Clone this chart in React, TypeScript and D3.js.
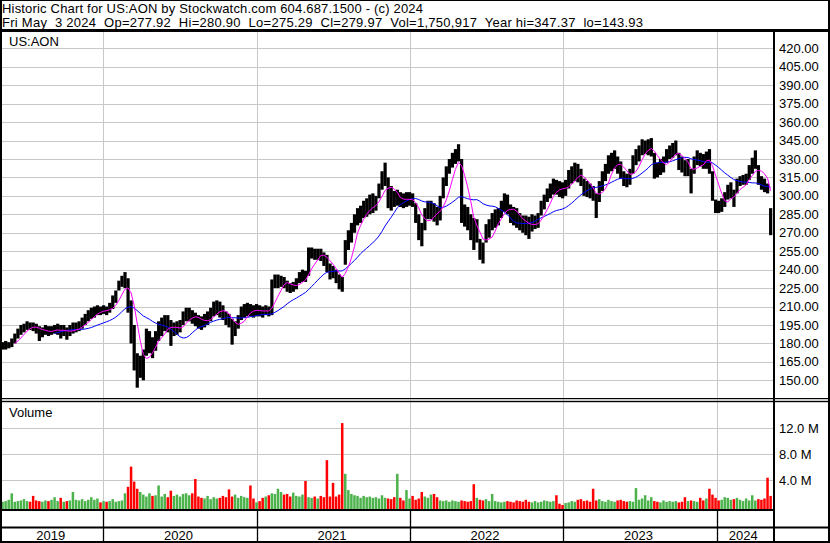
import React from "react";
import * as d3 from "d3";

// ---- data (weekly bars) ----
const years = ["2019", "2020", "2021", "2022", "2023", "2024"];
// week index (fractional) where each new year begins (2020..2024)
const yearStarts = [33.2, 83.8, 133.7, 183.7, 234.0];
const priceTicks = [150, 165, 180, 195, 210, 225, 240, 255, 270, 285, 300, 315, 330, 345, 360, 375, 390, 405, 420];
const volumeTicks = [4, 8, 12];
const volumeTickLabels = ["4.0 M", "8.0 M", "12.0 M"];

const weeklyHigh = [
  181, 182, 181, 184, 188, 192, 195, 196, 198, 197,
  197, 196, 194, 193, 195, 194, 194, 195, 196, 195,
  195, 193, 195, 197, 197, 198, 201, 204, 207, 209,
  210, 211, 210, 211, 210, 213, 219, 223, 231, 235,
  238, 233, 215, 195, 172, 170, 175, 192, 190, 185,
  190, 198, 201, 203, 203, 199, 197, 198, 199, 206,
  209, 209, 207, 205, 203, 202, 204, 206, 209, 214,
  215, 214, 211, 206, 204, 200, 198, 203, 210, 212,
  213, 212, 211, 212, 211, 210, 211, 210, 232, 236,
  236, 235, 234, 231, 229, 230, 233, 238, 240, 239,
  258, 258, 257, 257, 257, 254, 252, 245, 243, 240,
  236, 234, 264, 272, 278, 285, 290, 292, 296, 298,
  301, 302, 300, 310, 320, 327, 315, 308, 304, 305,
  303, 302, 303, 303, 302, 294, 285, 278, 290, 296,
  296, 294, 291, 300, 315, 324, 330, 335, 338, 342,
  330, 293, 291, 285, 282, 281, 265, 262, 277, 281,
  286, 289, 290, 296, 302, 301, 293, 291, 290, 286,
  284, 284, 283, 285, 284, 286, 296, 301, 306, 310,
  314, 313, 312, 311, 313, 321, 324, 327, 326, 322,
  314, 312, 310, 308, 302, 312, 320, 326, 333, 335,
  337, 332, 328, 320, 318, 322, 333, 338, 341, 346,
  345, 346, 347, 335, 327, 330, 332, 338, 341, 343,
  345, 335, 332, 329, 330, 322, 332, 337, 335, 334,
  336, 338, 320, 297, 296, 298, 303, 309, 311, 305,
  314, 316, 317, 318, 325, 331, 337, 325, 316, 314,
  310, 290,
];

const weeklyLow = [
  175, 175, 176, 177, 180, 184, 187, 189, 191, 191,
  190, 188, 182, 185, 187, 186, 187, 188, 187, 184,
  186, 183, 186, 188, 189, 190, 192, 195, 198, 200,
  201, 203, 203, 204, 203, 205, 208, 213, 223, 226,
  225, 205, 180, 158, 144, 152, 150, 170, 172, 168,
  174, 182, 186, 190, 189, 178, 186, 187, 189, 195,
  198, 198, 196, 194, 192, 191, 193, 195, 198, 202,
  203, 201, 199, 195, 193, 179, 186, 192, 199, 201,
  202, 202, 201, 202, 202, 201, 203, 202, 203, 225,
  225, 226, 225, 222, 221, 222, 224, 229, 230, 230,
  235, 249, 248, 248, 247, 243, 238, 232, 233, 229,
  224, 222, 244, 256, 262, 270, 276, 278, 282, 283,
  285, 286, 288, 298, 305, 308, 290, 288, 291, 292,
  291, 290, 291, 292, 291, 278, 264, 259, 272, 281,
  281, 279, 276, 280, 298, 308, 318, 323, 326, 328,
  278, 275, 272, 264, 256, 262, 248, 245, 262, 266,
  272, 274, 276, 282, 287, 285, 278, 276, 274, 272,
  270, 268, 265, 271, 273, 274, 284, 289, 295, 298,
  301, 301, 299, 298, 300, 306, 310, 312, 311, 308,
  300, 299, 298, 296, 282, 295, 304, 312, 318, 320,
  322, 318, 314, 308, 307, 309, 318, 325, 328, 333,
  334, 333, 332, 314, 315, 317, 319, 327, 330, 331,
  333, 321, 319, 316, 316, 302, 318, 325, 324, 322,
  322, 318, 296, 286, 286, 287, 291, 297, 298, 291,
  302, 308, 309, 309, 313, 318, 322, 309, 305, 303,
  302, 268,
];

// millions of shares
const weeklyVolume = [
  0.7, 0.8, 1.0, 2.0, 0.7, 0.8, 0.9, 1.1, 0.8, 0.7,
  1.6, 0.9, 0.8, 0.7, 0.9, 0.8, 1.0, 1.4, 0.8, 1.3,
  0.7, 0.8, 0.9, 2.2, 1.0, 0.9, 1.1, 0.8, 1.0, 1.4,
  1.0, 1.2, 0.6, 0.8, 0.7, 0.8, 1.1, 0.7, 0.8, 0.9,
  2.0, 3.0, 6.1, 3.8, 2.7, 2.2, 1.8, 1.5, 2.0, 1.6,
  1.7, 3.2, 1.5, 1.9, 1.4, 2.4, 1.6, 1.8, 1.5, 1.9,
  2.0, 1.7, 2.0, 4.2, 1.5, 1.3, 1.2, 1.6, 1.1, 1.4,
  1.2, 1.3, 1.6, 1.4, 2.6, 1.5, 1.8, 1.3, 1.6, 1.4,
  1.3, 3.2, 1.2, 0.6, 0.8, 1.3, 1.5, 1.7, 2.0, 1.9,
  2.7, 2.2, 1.8, 1.9, 1.5, 2.1, 1.6, 1.5, 1.8, 3.9,
  1.4, 1.3, 1.5, 1.2, 1.6, 1.4, 7.1, 1.5, 3.6, 1.5,
  1.8, 12.8, 5.0, 2.5, 1.9, 1.7, 1.6, 1.3, 1.6, 1.4,
  1.5, 1.3, 1.4, 1.2, 1.7, 1.3, 1.2, 1.1, 1.4, 5.0,
  1.3, 0.9, 2.5, 1.2, 1.6, 1.0, 1.2, 2.2, 1.5, 1.3,
  1.8, 1.9, 1.4, 0.9, 0.8, 0.9, 0.7, 0.9, 0.8, 0.7,
  0.9, 0.8, 0.7, 0.8, 3.4, 1.3, 1.0, 0.9, 1.1, 0.8,
  1.9, 0.8, 0.7, 0.6, 0.7, 0.8, 0.7, 0.6, 0.9, 0.8,
  0.7, 1.0, 0.7, 0.6, 0.8, 0.6, 0.7, 0.9, 0.8, 0.7,
  0.8, 1.7, 0.4, 0.2, 0.5, 0.6, 0.8, 0.7, 1.0, 1.1,
  0.8, 0.9, 0.7, 2.7, 0.9, 1.1, 0.8, 0.7, 1.0, 0.8,
  0.7, 0.9, 1.0, 0.8, 0.7, 0.8, 0.7, 2.8, 1.0, 1.2,
  1.7, 0.9, 1.4, 0.8, 0.7, 0.6, 0.9, 0.7, 0.8, 0.7,
  0.8, 0.6, 0.7, 1.4, 0.8, 0.9, 0.8, 0.7, 1.3, 0.9,
  1.2, 2.7, 1.8, 1.3, 0.9, 1.0, 1.4, 1.3, 1.0, 1.1,
  1.3, 1.0, 0.8, 1.2, 0.9, 1.7, 0.9, 1.1, 1.0, 1.2,
  4.4, 1.6,
];

const headerLine1 = "Historic Chart for US:AON by Stockwatch.com 604.687.1500 - (c) 2024";
const headerLine2 = "Fri May  3 2024  Op=277.92  Hi=280.90  Lo=275.29  Cl=279.97  Vol=1,750,917  Year hi=347.37  lo=143.93";
const symbol = "US:AON";

const FONT = "'Liberation Sans', Arial, sans-serif";
const GRID = "#c8c8c8";

export default function App() {
  const N = weeklyHigh.length;
  const x = d3.scaleLinear().domain([0, N]).range([1, 1 + 3.06 * N]);
  const y = d3.scaleLinear().domain([150, 420]).range([380.3, 48.3]);
  const yv = d3.scaleLinear().domain([0, 12]).range([506.3, 428.3]);

  const mid = weeklyHigh.map((h, i) => (h + weeklyLow[i]) / 2);
  const sma = (n: number) =>
    mid.map((_, i) => (i < n - 1 ? null : (d3.mean(mid.slice(i - n + 1, i + 1)) as number)));
  const maFast = sma(5);
  const maSlow = sma(18);
  const line = d3
    .line<number | null>()
    .defined((d) => d != null)
    .x((_, i) => x(i + 0.5))
    .y((d) => y(d as number));

  const axisX = 773;
  const yearX = yearStarts.map((w) => Math.round(x(w)) + 0.5);
  const bounds = [2, ...yearX, axisX];

  return (
    <>
      <style>{`body{margin:0;background:#fff}`}</style>
      <svg width={830} height={543} style={{ display: "block" }} fontFamily={FONT}>
        <defs>
          <clipPath id="mainClip">
            <rect x={2} y={32} width={axisX - 2} height={366} />
          </clipPath>
          <clipPath id="volClip">
            <rect x={2} y={403} width={axisX - 2} height={106} />
          </clipPath>
        </defs>
        <rect x={0} y={0} width={830} height={543} fill="#fff" />

        {/* header */}
        <text x={2} y={13} fontSize={13} textLength={421} lengthAdjust="spacing" fill="#000">
          {headerLine1}
        </text>
        <text x={2} y={26.5} fontSize={13} textLength={641} lengthAdjust="spacing" fill="#000" style={{ whiteSpace: "pre" }}>
          {headerLine2}
        </text>

        {/* grid */}
        {priceTicks.map((t) => (
          <line key={"hg" + t} x1={2} x2={axisX} y1={Math.round(y(t)) + 0.5} y2={Math.round(y(t)) + 0.5} stroke={GRID} strokeWidth={1} />
        ))}
        {volumeTicks.map((t) => (
          <line key={"vg" + t} x1={2} x2={axisX} y1={Math.round(yv(t)) + 0.5} y2={Math.round(yv(t)) + 0.5} stroke={GRID} strokeWidth={1} />
        ))}
        {yearX.map((gx, k) => (
          <line key={"yg" + k} x1={gx} x2={gx} y1={32} y2={509} stroke={GRID} strokeWidth={1} />
        ))}

        <text x={9} y={45.5} fontSize={13} fill="#000">{symbol}</text>

        {/* price bars */}
        <g clipPath="url(#mainClip)">
          {weeklyHigh.map((h, i) => (
            <rect
              key={"b" + i}
              x={x(i)}
              width={x(i + 1) - x(i) + 0.15}
              y={y(h)}
              height={Math.max(1, y(weeklyLow[i]) - y(h))}
              fill="#000"
            />
          ))}
          <path d={line(maSlow) || ""} fill="none" stroke="#0000ff" strokeWidth={1} />
          <path d={line(maFast) || ""} fill="none" stroke="#ff00ff" strokeWidth={1} />
        </g>

        {/* volume */}
        <text x={9} y={417} fontSize={13} fill="#000">Volume</text>
        <g clipPath="url(#volClip)">
          {weeklyVolume.map((v, i) => {
            const up = i === 0 ? true : mid[i] >= mid[i - 1];
            const top = yv(v);
            return (
              <rect key={"v" + i} x={x(i) + 0.3} width={2.5} y={top} height={509 - top} fill={up ? "#4cb24c" : "#ff0000"} />
            );
          })}
        </g>

        {/* axis labels */}
        {priceTicks.map((t) => (
          <text key={"pl" + t} x={779} y={y(t) + 4.6} fontSize={13} fill="#000">
            {t.toFixed(2)}
          </text>
        ))}
        {volumeTicks.map((t, k) => (
          <text key={"vl" + t} x={779} y={yv(t) + 4.6} fontSize={13} fill="#000">
            {volumeTickLabels[k]}
          </text>
        ))}

        {/* frame lines */}
        <rect x={0} y={29} width={830} height={3} fill="#000" />
        <rect x={0} y={398} width={830} height={1.2} fill="#000" />
        <rect x={0} y={400.8} width={830} height={1.4} fill="#000" />
        <rect x={0} y={509} width={axisX + 2} height={2} fill="#000" />
        <rect x={0} y={526.5} width={830} height={2} fill="#000" />
        <rect x={0} y={541} width={830} height={2} fill="#000" />
        <rect x={axisX} y={32} width={2} height={511} fill="#000" />
        <rect x={0} y={0} width={830} height={1} fill="#000" />
        <rect x={0} y={0} width={2} height={543} fill="#000" />
        <rect x={828} y={0} width={2} height={543} fill="#000" />

        {/* x axis rows */}
        {yearX.map((gx, k) => (
          <line key={"xs" + k} x1={gx} x2={gx} y1={511} y2={541} stroke="#000" strokeWidth={1.3} />
        ))}
        {years.map((yr, k) => (
          <text key={yr} x={(bounds[k] + bounds[k + 1]) / 2 - 2} y={539.5} fontSize={13} textAnchor="middle" fill="#000">
            {yr}
          </text>
        ))}
      </svg>
    </>
  );
}
